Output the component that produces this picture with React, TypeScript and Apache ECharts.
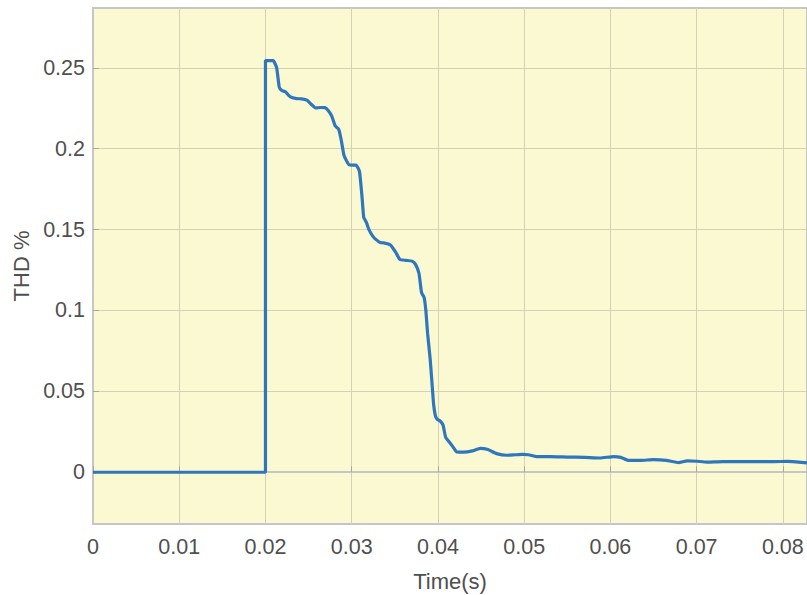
import React, { useEffect, useRef } from "react";
import * as echarts from "echarts";

const xTicks = [0, 0.01, 0.02, 0.03, 0.04, 0.05, 0.06, 0.07, 0.08];
const yTicks = [0, 0.05, 0.1, 0.15, 0.2, 0.25];

const time = [
  0, 0.01, 0.02, 0.02, 0.0206, 0.0209, 0.0213, 0.0216, 0.0219, 0.0223,
  0.0229, 0.0236, 0.0242, 0.0248, 0.0253, 0.0258, 0.0264, 0.0269, 0.0273,
  0.0277, 0.0281, 0.0285, 0.0288, 0.0291, 0.0294, 0.0297, 0.0301, 0.0305,
  0.0309, 0.0312, 0.0314, 0.0317, 0.0320, 0.0325, 0.0329, 0.0333, 0.0337,
  0.0345, 0.0351, 0.0356, 0.0363, 0.0370, 0.0374, 0.0378, 0.0381, 0.0384,
  0.0386, 0.0388, 0.0391, 0.0393, 0.0395, 0.0397, 0.0399, 0.0403, 0.0406,
  0.0409, 0.0412, 0.0417, 0.0422, 0.0430, 0.0440, 0.0449, 0.0458, 0.0468,
  0.0480, 0.0490, 0.0498, 0.0505, 0.0515, 0.0530, 0.0550, 0.0570, 0.0588,
  0.0604, 0.0612, 0.0621, 0.0635, 0.0650, 0.0665, 0.0679, 0.0689, 0.0700,
  0.0712, 0.0730, 0.0750, 0.0770, 0.0790, 0.0805, 0.0815, 0.0828,
];
const thd = [
  0, 0, 0, 0.2545, 0.2545, 0.2545, 0.2500, 0.2380, 0.2360, 0.2352,
  0.2320, 0.2310, 0.2308, 0.2300, 0.2275, 0.2252, 0.2255, 0.2254, 0.2235,
  0.2200, 0.2140, 0.2120, 0.2050, 0.1960, 0.1925, 0.1900, 0.1899, 0.1899,
  0.1860, 0.1700, 0.1575, 0.1545, 0.1500, 0.1455, 0.1435, 0.1420, 0.1418,
  0.1405, 0.1360, 0.1315, 0.1310, 0.1305, 0.1285, 0.1230, 0.1110, 0.1080,
  0.1000, 0.0860, 0.0700, 0.0560, 0.0420, 0.0350, 0.0328, 0.0315, 0.0290,
  0.0215, 0.0195, 0.0160, 0.0125, 0.0124, 0.0132, 0.0148, 0.0140, 0.0115,
  0.0105, 0.0108, 0.0110, 0.0108, 0.0096, 0.0097, 0.0094, 0.0092, 0.0088,
  0.0097, 0.0092, 0.0073, 0.0073, 0.0078, 0.0073, 0.0060, 0.0070, 0.0068,
  0.0063, 0.0066, 0.0066, 0.0066, 0.0066, 0.0067, 0.0064, 0.0058,
];

const seriesData = time.map((t, i) => [t, thd[i]]);

const FONT = "'Liberation Sans', Arial, Helvetica, sans-serif";
const LABEL_COLOR = "#4f4f4f";
const FS = 21.5;

export default function App() {
  const ref = useRef<HTMLDivElement>(null);
  useEffect(() => {
    document.body.style.margin = "0";
    if (!ref.current) return;
    const chart = echarts.init(ref.current, undefined, { renderer: "svg" });
    chart.setOption({
      animation: false,
      grid: {
        left: 93,
        top: 8,
        right: 0,
        bottom: 71,
        outerBoundsMode: "none",
        containLabel: false,
        show: true,
        backgroundColor: "#fbf9d2",
        borderColor: "#c6c6c6",
        borderWidth: 2,
      },
      xAxis: {
        type: "value",
        min: 0,
        max: 0.0828,
        name: "Time(s)",
        nameLocation: "middle",
        nameGap: 46,
        nameTextStyle: { fontSize: 22, color: LABEL_COLOR, fontFamily: FONT },
        axisLine: { show: true, lineStyle: { color: "#c6c6c6", width: 2 } },
        axisTick: {
          show: true,
          inside: true,
          length: 6,
          customValues: xTicks,
          lineStyle: { color: "#a8a8a0" },
        },
        axisLabel: {
          customValues: xTicks,
          fontSize: FS,
          color: LABEL_COLOR,
          fontFamily: FONT,
          margin: 12,
          formatter: (v: number) => String(+v.toFixed(3)),
        },
        splitLine: { show: true, lineStyle: { color: "#d4d2b3", width: 1 } },
      },
      yAxis: {
        type: "value",
        min: -0.032,
        max: 0.287,
        name: "THD %",
        nameLocation: "middle",
        nameGap: 58,
        nameTextStyle: { fontSize: 22, color: LABEL_COLOR, fontFamily: FONT },
        axisLine: { show: true, lineStyle: { color: "#c6c6c6", width: 2 } },
        axisTick: {
          show: true,
          inside: true,
          length: 6,
          customValues: yTicks,
          lineStyle: { color: "#a8a8a0" },
        },
        axisLabel: {
          customValues: yTicks,
          fontSize: FS,
          color: LABEL_COLOR,
          fontFamily: FONT,
          margin: 8,
          formatter: (v: number) => String(+v.toFixed(3)),
        },
        splitLine: { show: true, lineStyle: { color: "#d4d2b3", width: 1 } },
      },
      series: [
        {
          type: "line",
          data: seriesData,
          showSymbol: false,
          smooth: 0.15,
          lineStyle: { color: "#2e77bd", width: 3.2 },
          clip: true,
        },
      ],
    });
    return () => chart.dispose();
  }, []);
  return <div ref={ref} style={{ width: 807, height: 595 }} />;
}
